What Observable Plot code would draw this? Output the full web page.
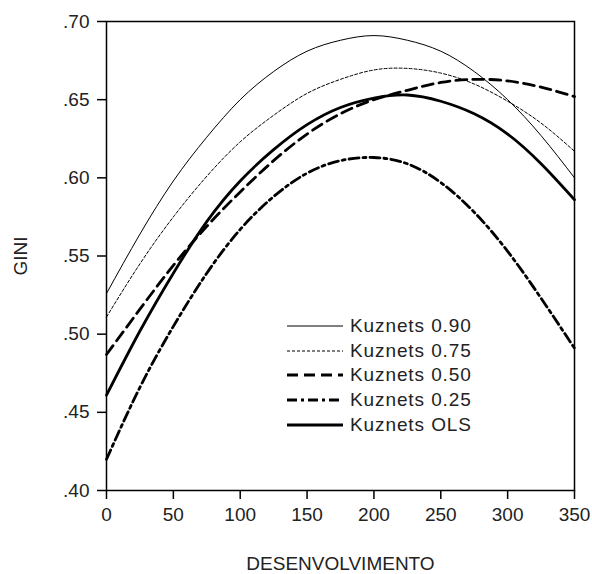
<!DOCTYPE html>
<html>
<head>
<meta charset="utf-8">
<script src="https://cdn.jsdelivr.net/npm/d3@7"></script>
<script src="https://cdn.jsdelivr.net/npm/@observablehq/plot@0.6"></script>
<style>
  body { margin: 0; background: #fff; }
  #wrap { position: relative; width: 592px; height: 574px; font-family: "Liberation Sans", Arial, sans-serif; }
  #legend { position: absolute; left: 287px; top: 313.5px; }
  .row { display: flex; align-items: center; height: 24.75px; }
  .row span { font-size: 19px; letter-spacing: 0.9px; color: #222; margin-left: 7px; }
</style>
</head>
<body>
<div id="wrap"></div>
<script>
// Development level (x) sample points
const desenvolvimento = [0, 25, 50, 75, 100, 125, 150, 175, 200, 225, 250, 275, 300, 325, 350];
// GINI values
const kuznets90  = [.526, .564, .598, .626, .650, .668, .681, .688, .691, .688, .681, .668, .650, .627, .600];
const kuznets75  = [.511, .545, .575, .601, .623, .640, .654, .663, .669, .670, .667, .660, .649, .635, .617];
const kuznets50  = [.487, .516, .544, .569, .591, .611, .628, .641, .650, .656, .661, .663, .662, .658, .652];
const kuznets25  = [.420, .466, .505, .539, .567, .588, .603, .611, .613, .609, .597, .578, .553, .523, .491];
const kuznetsOLS = [.461, .502, .539, .572, .598, .618, .634, .645, .651, .653, .649, .641, .628, .609, .586];

const seriesNames = ["Kuznets 0.90", "Kuznets 0.75", "Kuznets 0.50", "Kuznets 0.25", "Kuznets OLS"];
const seriesValues = [kuznets90, kuznets75, kuznets50, kuznets25, kuznetsOLS];
const yTicks = [0.40, 0.45, 0.50, 0.55, 0.60, 0.65, 0.70];
const xTicks = [0, 50, 100, 150, 200, 250, 300, 350];

const styles = {
  "Kuznets 0.90": {strokeWidth: 1, strokeDasharray: null},
  "Kuznets 0.75": {strokeWidth: 1, strokeDasharray: "3,2"},
  "Kuznets 0.50": {strokeWidth: 2.8, strokeDasharray: "11,6"},
  "Kuznets 0.25": {strokeWidth: 2.8, strokeDasharray: "10,4,3,4"},
  "Kuznets OLS":  {strokeWidth: 2.8, strokeDasharray: null}
};

const lineMarks = seriesNames.map((name, i) => {
  const data = desenvolvimento.map((x, j) => ({x, y: seriesValues[i][j]}));
  return Plot.line(data, {
    x: "x", y: "y", curve: "natural", stroke: "#000",
    strokeWidth: styles[name].strokeWidth,
    strokeDasharray: styles[name].strokeDasharray
  });
});

const fmt = d => d3.format(".2f")(d).replace(/^0/, "");

const chart = Plot.plot({
  width: 592,
  height: 574,
  marginLeft: 106,
  marginRight: 18,
  marginTop: 21,
  marginBottom: 84,
  style: {fontFamily: "'Liberation Sans', Arial, sans-serif", fontSize: "19px", color: "#222", background: "#fff"},
  x: {domain: [0, 350]},
  y: {domain: [0.40, 0.70]},
  marks: [
    Plot.axisY({ticks: yTicks, tickSize: 9, tickPadding: 8, tickFormat: fmt, label: null, stroke: "#000", strokeWidth: 1.5, fontSize: 19, fill: "#222"}),
    Plot.axisX({ticks: xTicks, tickSize: 9, tickPadding: 8, tickFormat: d => String(d), label: null, stroke: "#000", strokeWidth: 1.5, fontSize: 19, fill: "#222"}),
    ...lineMarks,
    Plot.frame({stroke: "#000", strokeWidth: 1.5}),
    Plot.text(["GINI"], {frameAnchor: "left", dx: -86, rotate: -90, text: d => d, fontSize: 19, fill: "#222", textAnchor: "middle", lineAnchor: "middle", letterSpacing: "0.9px"}),
    Plot.text(["DESENVOLVIMENTO"], {frameAnchor: "bottom", dy: 73, text: d => d, fontSize: 19, fill: "#222", textAnchor: "middle", lineAnchor: "middle", letterSpacing: "0.9px"})
  ]
});

const wrap = document.getElementById("wrap");
wrap.appendChild(chart);

const legend = document.createElement("div");
legend.id = "legend";
seriesNames.forEach(name => {
  const row = document.createElement("div");
  row.className = "row";
  const s = styles[name];
  row.innerHTML = `<svg width="56" height="24"><line x1="0" x2="56" y1="12" y2="12" stroke="#000" stroke-width="${s.strokeWidth}" ${s.strokeDasharray ? `stroke-dasharray="${s.strokeDasharray}"` : ""}/></svg><span>${name}</span>`;
  legend.appendChild(row);
});
wrap.appendChild(legend);
</script>
</body>
</html>
